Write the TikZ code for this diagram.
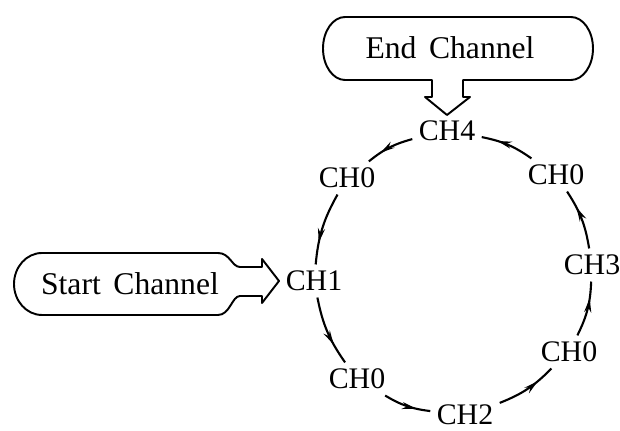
\documentclass[tikz,border=0pt]{standalone}
\usepackage{fontspec}
\setmainfont{Liberation Serif}
\usetikzlibrary{arrows.meta,decorations.markings}
\tikzset{
	chan/.style={inner sep=3.5pt,font=\fontsize{17}{19}\selectfont},
	calltext/.style={inner sep=0pt,font=\fontsize{18}{20}\selectfont},
	callout/.style={line width=1.1pt,line join=round},
	flow/.style={line width=1.2pt,postaction={decorate},
		decoration={markings,mark=at position 0.7 with {\arrow{Stealth[length=8pt,width=4pt]}}}}
}
\begin{document}
\begin{tikzpicture}[x=0.02cm,y=-0.02cm]
	\clip (0,0) rectangle (620,431);
	% channels on the ring
	\node[chan] (ch4) at (447,131) {CH4};
	\node[chan] (ch0a) at (347,178) {CH0};
	\node[chan] (ch1) at (314,281) {CH1};
	\node[chan] (ch0b) at (357,379) {CH0};
	\node[chan] (ch2) at (465,415) {CH2};
	\node[chan] (ch0c) at (569,352) {CH0};
	\node[chan] (ch3) at (592,265) {CH3};
	\node[chan] (ch0d) at (556,175) {CH0};
	\foreach \a/\b in {ch1/ch0b,ch0b/ch2,ch2/ch0c,ch0c/ch3,ch3/ch0d,ch0d/ch4,ch4/ch0a,ch0a/ch1} {
		\draw[flow] (\a) to[bend right=12] (\b);}

	% start callout
	\node[calltext] (startch) at (130,284) {Start\hspace{0.4em}Channel};
	\draw[callout] (262,267) -- (240,267) .. controls (232,267) and (230,253) .. (218,253)
		-- (42,253) .. controls (26.5,253) and (14,267) .. (14,284)
		.. controls (14,301) and (26.5,315) .. (42,315) -- (218,315)
		.. controls (230,315) and (232,296) .. (240,296) -- (262,296)
		-- (262,303) -- (279,281) -- (262,259) -- cycle;

	% end callout
	\node[calltext] (endch) at (450,48) {End\hspace{0.4em}Channel};
	\draw[callout] (432,80) -- (345,80) .. controls (333,80) and (323,66) .. (323,48.5)
		.. controls (323,31) and (333,17) .. (345,17) -- (571,17)
		.. controls (583,17) and (593,31) .. (593,48.5)
		.. controls (593,66) and (583,80) .. (571,80) -- (463,80)
		-- (463,97) -- (470,97) -- (447,115) -- (425,97) -- (432,97) -- cycle;
\end{tikzpicture}
\end{document}
